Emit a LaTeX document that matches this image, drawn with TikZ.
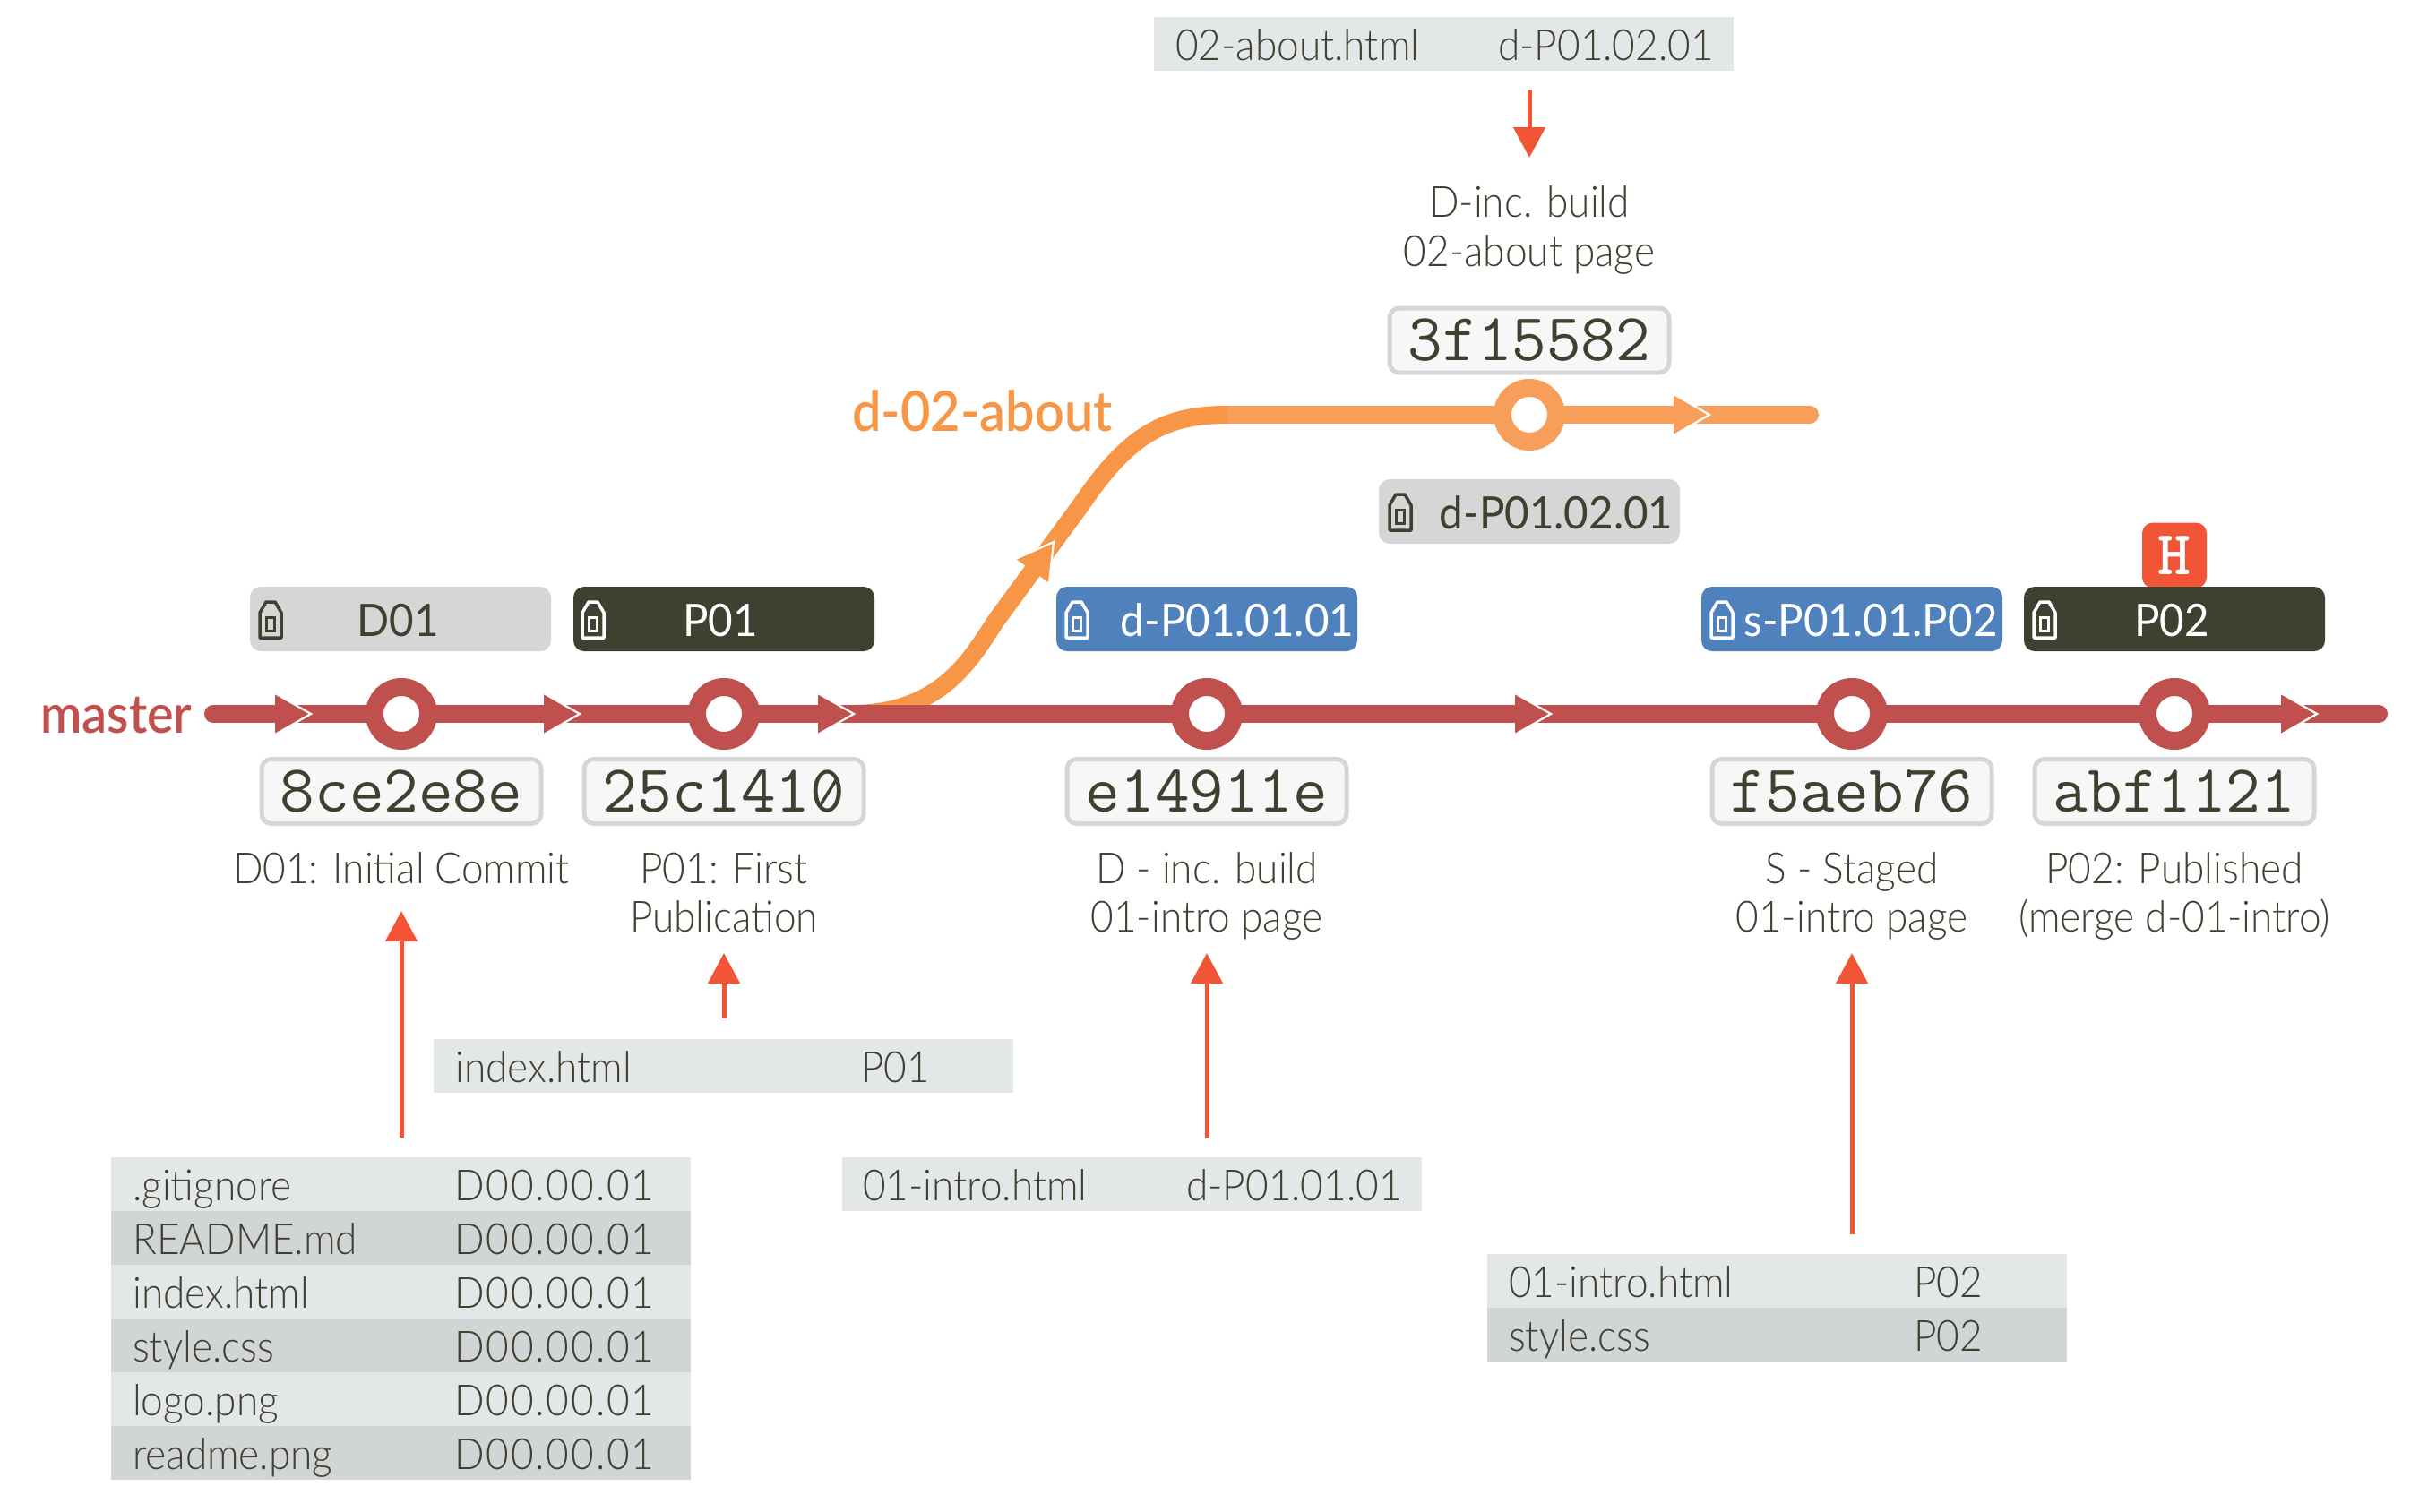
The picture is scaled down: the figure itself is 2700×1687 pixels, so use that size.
\documentclass[tikz,border=0pt]{standalone}
\usepackage{fontspec}
\usetikzlibrary{arrows.meta}
\setmainfont{Lato Light}[FakeStretch=0.92]
\newfontfamily\tagfont{Lato}[FakeStretch=0.95]
\newfontfamily\branchfont{Lato Semibold}[FakeStretch=0.93]
\definecolor{ink}{HTML}{404030}
\definecolor{mred}{HTML}{C0504D}
\definecolor{morange}{HTML}{F69E5A}
\definecolor{curveorange}{HTML}{F79646}
\definecolor{fileflow}{HTML}{F15536}
\definecolor{tagblue}{HTML}{4F81BD}
\definecolor{taggrey}{HTML}{D6D6D6}
\definecolor{rowa}{HTML}{E4E7E8}
\definecolor{rowb}{HTML}{D2D5D6}
\tikzset{
  x=1pt,y=-1pt,
  linem/.style={line width=20pt,line cap=round,mred},
  lineo/.style={line width=20pt,line cap=round,morange},
  ring/.style={circle,draw=#1,line width=20pt,fill=white,minimum size=60pt,inner sep=0pt},
  tagbox/.style={rectangle,rounded corners=12pt,minimum width=336pt,minimum height=72pt,inner sep=0pt,fill=#1},
  tagtext/.style={anchor=base,inner sep=0pt,text=#1,font=\tagfont\fontsize{50}{54}\selectfont},
  hashbox/.style={rectangle,rounded corners=11pt,draw=#1,fill=#1!20!white,line width=5pt,minimum width=312pt,minimum height=72pt,inner sep=0pt,text=ink,text height=45pt,text depth=0pt,font=\ttfamily\fontsize{75}{75}\selectfont},
  caption/.style={anchor=base,align=center,inner sep=0pt,text=ink,font=\fontsize{48}{54.5}\selectfont},
  rowfill/.style={rectangle,anchor=north west,fill=#1,minimum width=647pt,minimum height=60pt,inner sep=0pt},
  cell/.style={anchor=base west,inner sep=0pt,text=ink,font=\fontsize{48}{50}\selectfont},
  cellwide/.style={cell,font=\addfontfeature{LetterSpace=4}\fontsize{48}{50}\selectfont},
  fileflowline/.style={line width=5pt,fileflow,-{Triangle[length=34pt,width=35pt]}},
  pics/flowtip/.style={code={
    \fill[#1] (-40,-23) -- (0,0) -- (-40,23) -- cycle;
    \draw[white,line width=2.2pt] (-40,-23) -- (0,0) -- (-40,23);
  }},
  pics/tagicon/.style={code={
    \draw[#1,line width=3.5pt,line join=round] (-12,20) -- (12,20) -- (12,-8) -- (5,-20) -- (-5,-20) -- (-12,-8) -- cycle;
    \draw[#1,line width=3pt] (-4.5,-3) rectangle (4.5,12);
  }},
}
\begin{document}
\begin{tikzpicture}
\useasboundingbox (0,0) rectangle (2700,1687);
% branch lines
\coordinate (mstart) at (238,797);
\coordinate (mend) at (2655,797);
\coordinate (bstart) at (950,797);
\coordinate (bslopea) at (1116,687);
\coordinate (bslopeb) at (1207,563);
\coordinate (bbend) at (1370,463);
\coordinate (bend) at (2020,463);
\draw[lineo] (bbend) -- (bend);
\draw[line width=20pt,curveorange] (bstart) .. controls (1060,797) and (1090,722) .. (bslopea) -- (bslopeb) .. controls (1260,485) and (1300,463) .. (bbend);
\draw[linem] (mstart) -- (mend);
% commits
\node[ring=mred] (c1) at (448,797) {};
\node[ring=mred] (c2) at (808,797) {};
\node[ring=mred] (c3) at (1347,797) {};
\node[ring=mred] (c4) at (2067,797) {};
\node[ring=mred] (c5) at (2427,797) {};
\node[ring=morange] (c6) at (1707,463) {};
% flow arrows
\pic at (347,797) {flowtip=mred};
\pic at (647,797) {flowtip=mred};
\pic at (953,797) {flowtip=mred};
\pic at (1731,797) {flowtip=mred};
\pic at (2586,797) {flowtip=mred};
\pic at (1908,463) {flowtip=morange};
\pic[rotate=54] at (1176,605) {flowtip=curveorange};
% branch names
\node[anchor=base west,inner sep=0pt,text=mred,font=\branchfont\fontsize{60}{64}\selectfont] (nmaster) at (45,818) {master};
\node[anchor=base west,inner sep=0pt,text=curveorange,font=\branchfont\fontsize{62}{66}\selectfont] (nbranch) at (951,481) {d-02-about};
% tags
\node[tagbox=taggrey] (t1) at (447,691) {};
\node[tagbox=ink] (t2) at (808,691) {};
\node[tagbox=tagblue] (t3) at (1347,691) {};
\node[tagbox=taggrey] (t6) at (1707,571) {};
\node[tagbox=tagblue] (t4) at (2067,691) {};
\node[rectangle,rounded corners=12pt,minimum width=72pt,minimum height=73pt,inner sep=0pt,fill=fileflow,text=white,font=\ttfamily\bfseries\fontsize{70}{70}\selectfont,text height=42pt,text depth=0pt] (hd) at (2427,620) {H};
\node[tagbox=ink] (t5) at (2427,691) {};
\pic at (302,692) {tagicon=ink};
\pic at (662,692) {tagicon=white};
\pic at (1202,692) {tagicon=white};
\pic at (1563,572) {tagicon=ink};
\pic at (1922,692) {tagicon=white};
\pic at (2282,692) {tagicon=white};
\node[tagtext=ink] (tt1) at (444,710) {D01};
\node[tagtext=white] (tt2) at (804,710) {P01};
\node[tagtext=white] (tt3) at (1381,710) {d-P01.01.01};
\node[tagtext=ink] (tt6) at (1737,590) {d-P01.02.01};
\node[tagtext=white] (tt4) at (2088,710) {s-P01.01.P02};
\node[tagtext=white] (tt5) at (2424,710) {P02};
% hashes
\node[hashbox=taggrey] (h1) at (448,883.5) {8ce2e8e};
\node[hashbox=taggrey] (h2) at (808,883.5) {25c1410};
\node[hashbox=taggrey] (h3) at (1347,883.5) {e14911e};
\node[hashbox=taggrey] (h4) at (2067,883.5) {f5aeb76};
\node[hashbox=taggrey] (h5) at (2427,883.5) {abf1121};
\node[hashbox=taggrey] (h6) at (1707,380) {3f15582};
\draw[ink,line width=3.5pt] (915,900) -- (933,871);
% captions
\node[caption] (k1) at (448,986) {D01: Initial Commit};
\node[caption] (k2) at (808,1040.5) {P01: First\\Publication};
\node[caption] (k3) at (1347,1040.5) {D - inc. build\\01-intro page};
\node[caption] (k4) at (2067,1040.5) {S - Staged\\01-intro page};
\node[caption] (k5) at (2427,1040.5) {P02: Published\\(merge d-01-intro)};
\node[caption] (k6) at (1707,297) {D-inc. build\\02-about page};
% file tables
\node[rowfill=rowa] (r1) at (124,1292) {};
\node[rowfill=rowb] (r2) at (124,1352) {};
\node[rowfill=rowa] (r3) at (124,1412) {};
\node[rowfill=rowb] (r4) at (124,1472) {};
\node[rowfill=rowa] (r5) at (124,1532) {};
\node[rowfill=rowb] (r6) at (124,1592) {};
\node[cell] at (148,1340) {.gitignore};
\node[cell] at (148,1400) {README.md};
\node[cell] at (148,1460) {index.html};
\node[cell] at (148,1520) {style.css};
\node[cell] at (148,1580) {logo.png};
\node[cell] at (148,1640) {readme.png};
\foreach \yy in {1340,1400,1460,1520,1580,1640} \node[cellwide] at (507,\yy) {D00.00.01};
\node[rowfill=rowa] (r7) at (484,1160) {};
\node[cell] at (508,1208) {index.html};
\node[cell] at (961,1208) {P01};
\node[rowfill=rowa] (r8) at (940,1292) {};
\node[cell] at (963,1340) {01-intro.html};
\node[cell] at (1324,1340) {d-P01.01.01};
\node[rowfill=rowa] (r9) at (1660,1400) {};
\node[rowfill=rowb] (r10) at (1660,1460) {};
\node[cell] at (1684,1448) {01-intro.html};
\node[cell] at (2136,1448) {P02};
\node[cell] at (1684,1508) {style.css};
\node[cell] at (2136,1508) {P02};
\node[rowfill=rowa] (r11) at (1288,19) {};
\node[cell] at (1312,67) {02-about.html};
\node[cell] at (1672,67) {d-P01.02.01};
% file arrows
\coordinate (a1) at (448,1270); \coordinate (b1) at (448,1017);
\coordinate (a2) at (808,1137); \coordinate (b2) at (808,1064);
\coordinate (a3) at (1347,1271); \coordinate (b3) at (1347,1064);
\coordinate (a4) at (2067,1378); \coordinate (b4) at (2067,1064);
\coordinate (a5) at (1707,100); \coordinate (b5) at (1707,176);
\draw[fileflowline] (a1) -- (b1);
\draw[fileflowline] (a2) -- (b2);
\draw[fileflowline] (a3) -- (b3);
\draw[fileflowline] (a4) -- (b4);
\draw[fileflowline] (a5) -- (b5);
\end{tikzpicture}
\end{document}
